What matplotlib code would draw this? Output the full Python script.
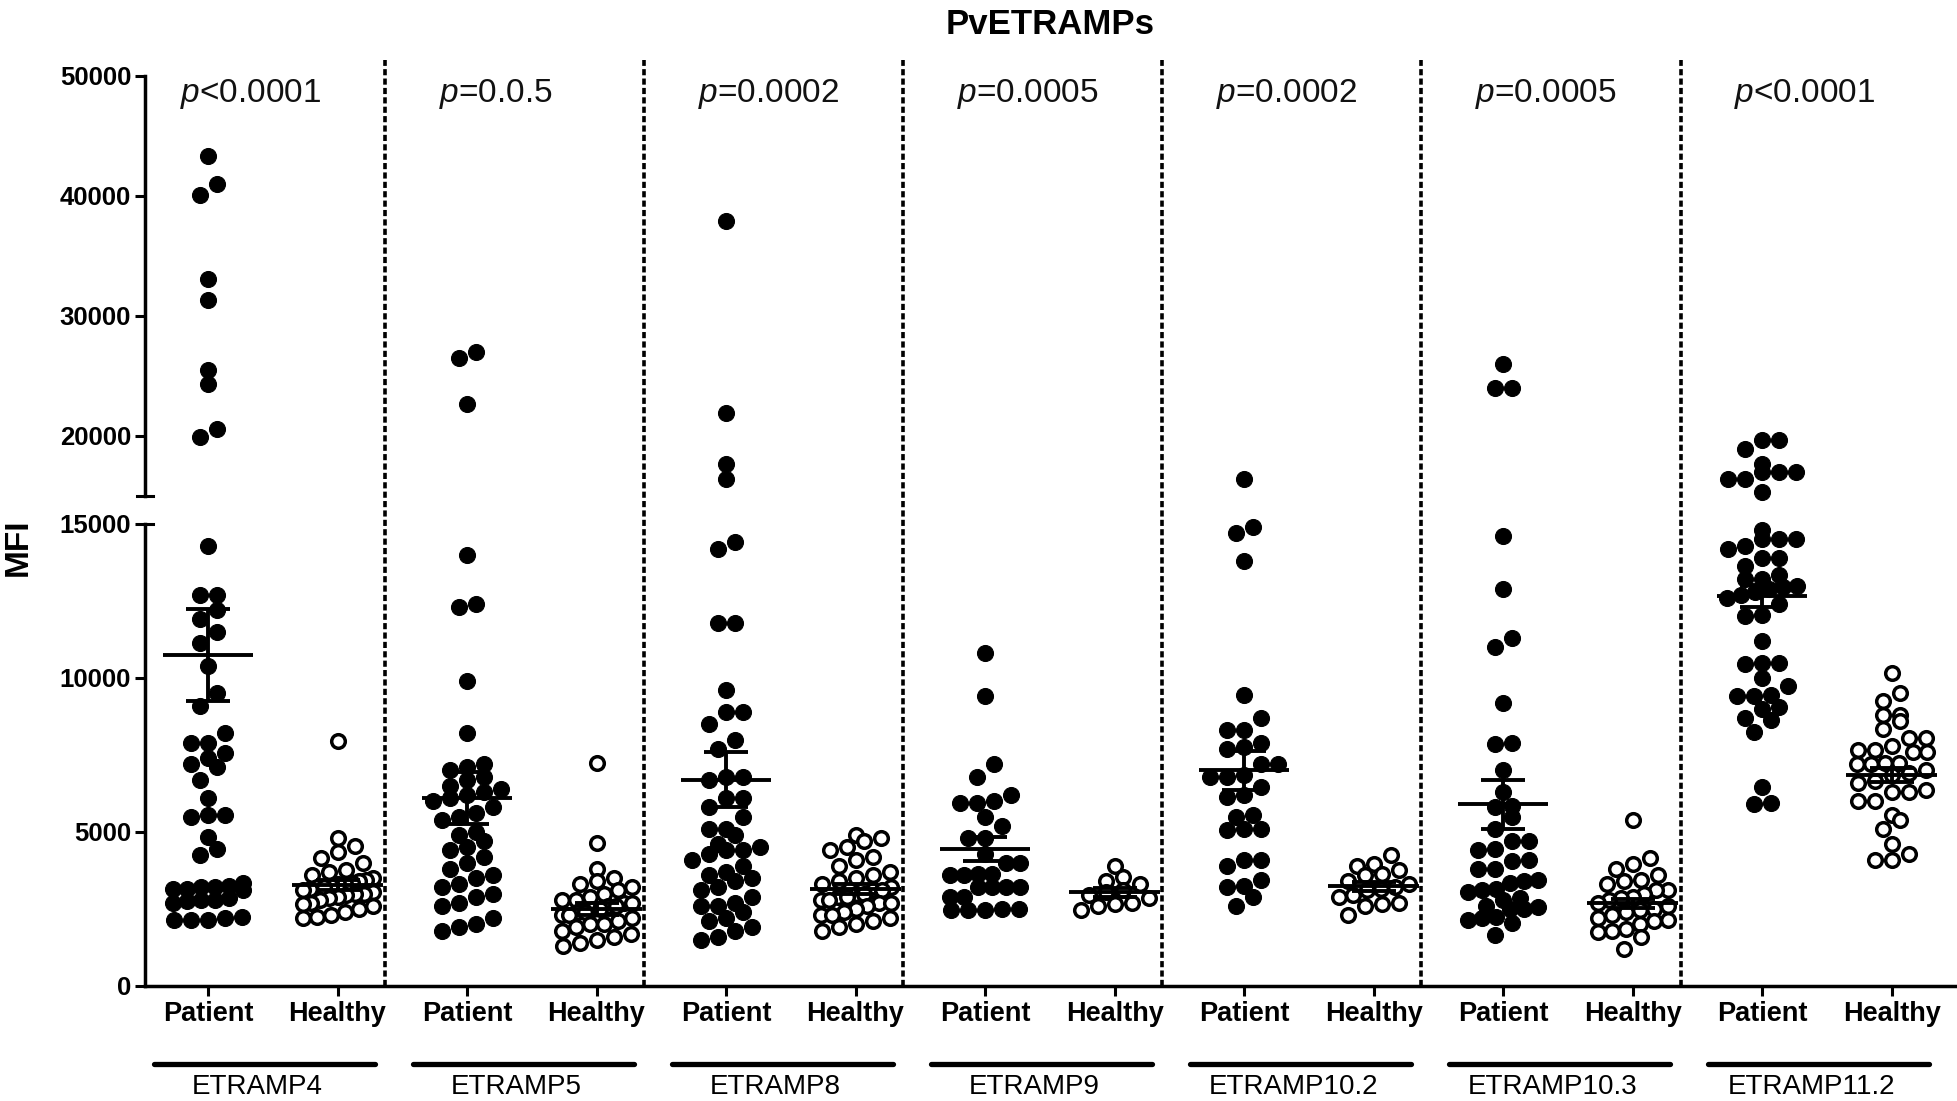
import numpy as np
import matplotlib
matplotlib.use("Agg")
import matplotlib.pyplot as plt
from matplotlib.transforms import blended_transform_factory

plt.rcParams['font.family'] = ['Liberation Sans', 'DejaVu Sans']
plt.rcParams['mathtext.fontset'] = 'custom'
plt.rcParams['mathtext.it'] = 'Liberation Sans:italic'
plt.rcParams['mathtext.rm'] = 'Liberation Sans'

# ---------------- data ----------------
antigens = ["ETRAMP4", "ETRAMP5", "ETRAMP8", "ETRAMP9", "ETRAMP10.2", "ETRAMP10.3", "ETRAMP11.2"]
p_values = ["<0.0001", "=0.0.5", "=0.0002", "=0.0005", "=0.0002", "=0.0005", "<0.0001"]
group_labels = ["Patient", "Healthy"]

pat_etramp4 = [43300, 41000, 40100, 33100, 31300, 25500, 24300, 20600, 19900,
               14300, 12700, 12700, 12200, 11900, 11500, 11150, 10400, 9500, 9100, 8200,
               7900, 7900, 7550, 7400, 7200, 7100, 6700, 6100, 5550, 5550, 5500, 4850,
               4450, 4250, 3350, 3250, 3200, 3200, 3150, 3150, 3100, 2850, 2800, 2800,
               2750, 2700, 2250, 2200, 2150, 2150, 2150]
hea_etramp4 = [7950, 4800, 4550, 4350, 4150, 4000, 3750, 3700, 3600, 3500, 3450, 3400,
               3350, 3300, 3300, 3250, 3200, 3200, 3150, 3100, 3050, 3000, 3000, 2950,
               2900, 2850, 2800, 2700, 2650, 2600, 2500, 2400, 2300, 2250, 2200]

pat_etramp5 = [27000, 26500, 22700, 14000, 12400, 12300, 9900, 8200, 7200, 7100, 7000,
               6800, 6700, 6500, 6400, 6300, 6200, 6100, 6000, 5800, 5600, 5500, 5400,
               5000, 4900, 4700, 4500, 4400, 4200, 4000, 3800, 3600, 3500, 3300, 3200,
               3000, 2900, 2700, 2600, 2200, 2000, 1900, 1800]
hea_etramp5 = [7250, 4650, 3800, 3500, 3400, 3300, 3200, 3100, 3000, 2900, 2800, 2800,
               2700, 2700, 2600, 2600, 2500, 2500, 2400, 2400, 2300, 2300, 2200, 2100,
               2000, 2000, 1900, 1800, 1700, 1600, 1500, 1400, 1300]

pat_etramp8 = [37900, 21900, 17700, 16400, 14400, 14200, 11800, 11800, 9600, 8900, 8900,
               8500, 8000, 7700, 6800, 6800, 6700, 6100, 6100, 5800, 5500, 5100, 5100,
               4900, 4600, 4500, 4400, 4400, 4300, 4100, 3900, 3700, 3600, 3500, 3400,
               3200, 3100, 2900, 2700, 2600, 2600, 2400, 2200, 2100, 1900, 1800, 1600, 1500]
hea_etramp8 = [4900, 4800, 4700, 4500, 4400, 4200, 4100, 3900, 3700, 3600, 3500, 3400,
               3300, 3200, 3100, 3100, 3000, 3000, 2900, 2900, 2800, 2800, 2700, 2700,
               2600, 2500, 2400, 2300, 2300, 2200, 2100, 2000, 1900, 1800]

pat_etramp9 = [10800, 9400, 7200, 6800, 6200, 6000, 5950, 5950, 5500, 5200, 4800, 4800,
               4300, 4000, 4000, 3650, 3650, 3600, 3600, 3200, 3200, 3200, 3200, 2900,
               2900, 2500, 2500, 2450, 2450, 2450]
hea_etramp9 = [3900, 3550, 3400, 3300, 3100, 3050, 2950, 2850, 2700, 2650, 2600, 2450]

pat_etramp10_2 = [16400, 14900, 14700, 13800, 9450, 8700, 8300, 8300, 7900, 7750, 7700,
                  7200, 7200, 6850, 6800, 6800, 6450, 6200, 6150, 5550, 5500, 5100, 5100,
                  5050, 4100, 4100, 3900, 3450, 3250, 3200, 2900, 2600]
hea_etramp10_2 = [4250, 3950, 3900, 3750, 3650, 3600, 3400, 3300, 3200, 3150, 3100, 2950,
                  2900, 2700, 2650, 2600, 2300]

pat_etramp10_3 = [26000, 24000, 24000, 14600, 12900, 11300, 11000, 9200, 7900, 7850, 7000,
                  6300, 5850, 5800, 5500, 5100, 4700, 4700, 4450, 4400, 4100, 4050, 3800,
                  3800, 3450, 3400, 3350, 3150, 3100, 3050, 2850, 2800, 2600, 2550, 2500,
                  2500, 2250, 2200, 2150, 2050, 1650]
hea_etramp10_3 = [5400, 4150, 3950, 3800, 3600, 3450, 3400, 3300, 3100, 3100, 3000, 2900,
                  2850, 2800, 2700, 2600, 2500, 2450, 2400, 2300, 2200, 2150, 2100, 2000,
                  1850, 1800, 1750, 1600, 1200]

pat_etramp11_2 = [19700, 19700, 18900, 17700, 17000, 17000, 17000, 16400, 16400, 15300,
                  14800, 14500, 14500, 14500, 14300, 14200, 13900, 13900, 13650, 13350,
                  13200, 13200, 13000, 12950, 12900, 12800, 12700, 12600, 12400, 12050,
                  12000, 11200, 10500, 10500, 10450, 10000, 9750, 9450, 9400, 9400, 9050,
                  9000, 8700, 8650, 8250, 6450, 5950, 5900]
hea_etramp11_2 = [10150, 9500, 9250, 8800, 8800, 8600, 8350, 8050, 8050, 7800, 7650, 7650,
                  7600, 7600, 7250, 7250, 7200, 7200, 7000, 6900, 6850, 6650, 6600, 6350,
                  6300, 6300, 6000, 6000, 5550, 5400, 5100, 4600, 4300, 4100, 4100]

patient_series = [pat_etramp4, pat_etramp5, pat_etramp8, pat_etramp9,
                  pat_etramp10_2, pat_etramp10_3, pat_etramp11_2]
healthy_series = [hea_etramp4, hea_etramp5, hea_etramp8, hea_etramp9,
                  hea_etramp10_2, hea_etramp10_3, hea_etramp11_2]

mean_patient = [10750, 6100, 6700, 4450, 7000, 5900, 12650]
sem_patient = [1500, 850, 880, 380, 630, 800, 360]
mean_healthy = [3280, 2500, 3150, 3040, 3240, 2680, 6850]
sem_healthy = [170, 200, 150, 150, 150, 150, 220]

lower_ticks = [0, 5000, 10000, 15000]
upper_ticks = [20000, 30000, 40000, 50000]
BREAK = 15000
YMAX = 50000

# ---------------- figure / axes ----------------
W, H = 19.58, 11.01
fig = plt.figure(figsize=(W, H), dpi=100)
left, width = 0.0741, 0.9244
ax_lo = fig.add_axes([left, 0.1045, width, 0.5241 - 0.1045])
ax_hi = fig.add_axes([left, 0.5495, width, 0.9310 - 0.5495])
XMIN, XMAX = -0.486, 13.49
for ax in (ax_lo, ax_hi):
    ax.set_xlim(XMIN, XMAX)
    ax.patch.set_visible(False)
    ax.spines['top'].set_visible(False)
    ax.spines['right'].set_visible(False)
    ax.spines['left'].set_linewidth(2.5)
    ax.tick_params(axis='y', length=7, width=2.2, labelsize=18.5, pad=3)
ax_lo.set_ylim(0, BREAK)
ax_hi.set_ylim(BREAK, YMAX)
ax_hi.spines['bottom'].set_visible(False)
ax_hi.tick_params(axis='x', bottom=False, labelbottom=False)
ax_lo.spines['bottom'].set_linewidth(2.5)

ax_lo.set_yticks(lower_ticks)
ax_lo.set_yticklabels([str(t) for t in lower_ticks], fontweight='bold')
ax_hi.set_yticks(upper_ticks)
ax_hi.set_yticklabels([str(t) for t in upper_ticks], fontweight='bold')

n = len(antigens)
xpos = []
xlab = []
for g in range(n):
    xpos += [2 * g, 2 * g + 1]
    xlab += group_labels
ax_lo.set_xticks(xpos)
ax_lo.set_xticklabels(xlab, fontweight='bold', fontsize=19.5)
ax_lo.tick_params(axis='x', length=7, width=2.2, pad=4)

# break caps
tr_lo = blended_transform_factory(ax_lo.transAxes, ax_lo.transData)
tr_hi = blended_transform_factory(ax_hi.transAxes, ax_hi.transData)
cap = 8 / (width * W * 100)
ax_lo.plot([0, cap], [BREAK, BREAK], color='black', lw=2.2, transform=tr_lo, clip_on=False)
ax_hi.plot([-cap, cap], [BREAK, BREAK], color='black', lw=2.2, transform=tr_hi, clip_on=False)


def pixel_y(vals):
    vals = np.asarray(vals, float)
    lo = ax_lo.transData.transform(np.c_[np.zeros_like(vals), np.minimum(vals, BREAK)])[:, 1]
    hi = ax_hi.transData.transform(np.c_[np.zeros_like(vals), np.maximum(vals, BREAK)])[:, 1]
    return np.where(vals >= BREAK, hi, lo)


unit_px = ax_lo.transData.transform((1, 0))[0] - ax_lo.transData.transform((0, 0))[0]


def swarm_offsets(vals, diam_px=17.0, row_px=13.0, max_half=0.27):
    vals = np.asarray(vals, float)
    ypx = pixel_y(vals)
    order = np.argsort(ypx)
    rows, cur, start = [], [], None
    for i in order:
        if start is None or ypx[i] - start > row_px:
            if cur:
                rows.append(cur)
            cur, start = [i], ypx[i]
        else:
            cur.append(i)
    if cur:
        rows.append(cur)
    step = diam_px / unit_px
    offs = np.zeros(len(vals))
    for r in rows:
        m = len(r)
        s = 0 if m == 1 else min(step, 2 * max_half / (m - 1))
        for k, i in enumerate(r):
            offs[i] = (k - (m - 1) / 2) * s
    return offs


def draw_points(vals, xc, filled):
    vals = np.asarray(vals, float)
    xs = xc + swarm_offsets(vals)
    kw = dict(linestyle='none', marker='o', clip_on=False, zorder=3)
    if filled:
        kw.update(ms=11.5, mfc='black', mec='black', mew=0.8)
    else:
        kw.update(ms=9.8, mfc='white', mec='black', mew=2.5)
    up = vals >= BREAK
    if np.any(up):
        ax_hi.plot(xs[up], vals[up], **kw)
    if np.any(~up):
        ax_lo.plot(xs[~up], vals[~up], **kw)


def draw_mean_sem(xc, m, s):
    kw = dict(color='black', lw=2.8, zorder=5, solid_capstyle='butt', clip_on=False)
    ax_lo.plot([xc - 0.35, xc + 0.35], [m, m], **kw)
    ax_lo.plot([xc, xc], [m - s, m + s], **kw)
    ax_lo.plot([xc - 0.17, xc + 0.17], [m + s, m + s], **kw)
    ax_lo.plot([xc - 0.17, xc + 0.17], [m - s, m - s], **kw)


for g in range(n):
    draw_points(patient_series[g], 2 * g, True)
    draw_points(healthy_series[g], 2 * g + 1, False)
    draw_mean_sem(2 * g, mean_patient[g], sem_patient[g])
    draw_mean_sem(2 * g + 1, mean_healthy[g], sem_healthy[g])

# dashed separators spanning both axes
trf = blended_transform_factory(ax_lo.transData, fig.transFigure)
for g in range(n - 1):
    xd = 2 * g + 1.37
    ax_lo.plot([xd, xd], [0.1045, 0.9455], transform=trf, color='black', lw=2.6,
               dashes=(1.7, 0.9), clip_on=False, zorder=2)

# group underlines and names
for g in range(n):
    ax_lo.plot([2 * g - 0.42, 2 * g + 1.29], [0.0336, 0.0336], transform=trf,
               color='black', lw=3.8, solid_capstyle='round', clip_on=False)
    ax_lo.text(2 * g + 0.38, 0.0125, antigens[g], transform=trf, ha='center',
               va='center', fontsize=20)
    ax_lo.text(2 * g - 0.22, 0.9074, r"$\it{p}$" + p_values[g], transform=trf,
               ha='left', va='baseline', fontsize=24, color='#111111')

fig.text(left + width / 2, 0.978, "PvETRAMPs", ha='center', va='center',
         fontsize=25, fontweight='bold')
fig.text(0.0095, 0.503, "MFI", rotation=90, ha='center', va='center',
         fontsize=24, fontweight='bold')

fig.savefig("out.png", dpi=100)
